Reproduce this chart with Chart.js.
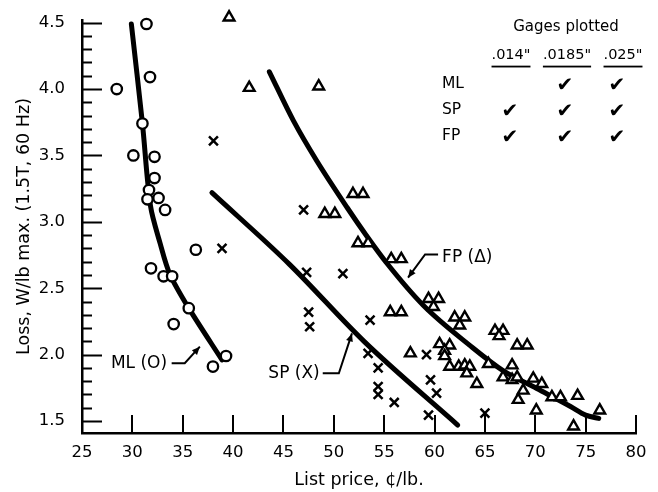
<!DOCTYPE html>
<html><head><meta charset="utf-8">
<script src="https://cdn.jsdelivr.net/npm/chart.js@4/dist/chart.umd.min.js"></script>
<style>html,body{margin:0;padding:0;background:#fff}#wrap{width:658px;height:492px}</style>
</head><body><div id="wrap"><canvas id="c" width="658" height="492"></canvas></div>
<script>
// ---- data ----
const mlPrice = [31.4, 31.75, 28.45, 31.0, 30.1, 32.2, 32.2, 31.65, 31.5, 32.6, 33.25, 36.3, 31.85, 33.1, 33.95, 35.6, 34.1, 39.3, 38.0];
const mlLoss  = [4.49, 4.09, 4.0, 3.74, 3.5, 3.49, 3.33, 3.24, 3.17, 3.18, 3.09, 2.79, 2.65, 2.59, 2.59, 2.35, 2.23, 1.99, 1.91];

const spPrice = [38.05, 38.9, 47.0, 47.3, 50.9, 47.5, 47.6, 53.6, 53.4, 54.4, 54.4, 54.4, 56.0, 59.2, 59.6, 60.2, 59.4, 65.0];
const spLoss  = [3.61, 2.80, 3.09, 2.62, 2.61, 2.32, 2.21, 2.26, 2.01, 1.90, 1.76, 1.70, 1.64, 2.0, 1.81, 1.71, 1.545, 1.56];

const fpPrice = [39.6, 41.6, 48.5, 49.1, 50.1, 51.9, 52.9, 52.4, 53.4, 55.7, 56.7, 55.6, 56.7, 57.6, 59.4, 60.4, 59.9, 62.0, 63.0, 62.5,
                 60.5, 61.5, 61.0, 61.0, 61.5, 62.4, 63.0, 63.5, 63.2, 64.2, 65.35, 66.0, 66.8, 66.4, 68.2, 69.2, 67.7, 66.8, 67.7, 68.2,
                 69.8, 70.65, 68.3, 68.8, 70.1, 71.65, 72.5, 74.2, 73.8, 76.4];
const fpLoss  = [4.54, 4.01, 4.02, 3.06, 3.06, 3.21, 3.21, 2.84, 2.84, 2.72, 2.72, 2.32, 2.32, 2.01, 2.42, 2.42, 2.36, 2.28, 2.28, 2.22,
                 2.08, 2.07, 2.03, 1.99, 1.91, 1.91, 1.92, 1.91, 1.86, 1.78, 1.93, 2.18, 2.18, 2.14, 2.07, 2.07, 1.92, 1.83, 1.81, 1.83,
                 1.82, 1.78, 1.66, 1.73, 1.58, 1.68, 1.68, 1.69, 1.46, 1.58];

// fitted curves
const mlCurvePrice = [29.9, 31.0, 31.8, 32.75, 33.7, 35.6, 38.9];
const mlCurveLoss  = [4.49, 3.74, 3.12, 2.84, 2.61, 2.35, 1.96];
const spCurvePrice = [37.9, 45.6, 53.0, 62.3];
const spCurveLoss  = [3.22, 2.68, 2.10, 1.47];
const fpCurvePrice = [43.6, 46.0, 48.3, 51.3, 53.3, 55.25, 58.9, 63.5, 66.8, 70.15, 73.5, 75.0, 76.3];
const fpCurveLoss  = [4.13, 3.76, 3.46, 3.11, 2.89, 2.69, 2.37, 2.07, 1.88, 1.745, 1.61, 1.545, 1.52];

// axis ticks
const xTicks = [25, 30, 35, 40, 45, 50, 55, 60, 65, 70, 75, 80];
const yTicks = [1.5, 2.0, 2.5, 3.0, 3.5, 4.0, 4.5];
const yMinorStep = 0.1;

// gages table
const gageTitle = 'Gages plotted';
const gageHeaders = ['.014"', '.0185"', '.025"'];
const gageRows = ['ML', 'SP', 'FP'];
const gageChecks = [[false, true, true], [true, true, true], [true, true, true]];

// curve labels
const curveLabels = ['ML (O)', 'SP (X)', 'FP (\u0394)'];

// ---- helpers ----
const pts = (xs, ys) => xs.map((v, i) => ({x: v, y: ys[i]}));
const FONT = 'DejaVu Sans';
Chart.defaults.font.family = FONT;
Chart.defaults.color = '#000';

const inwardTicks = {
  id: 'inwardTicks',
  afterDraw(chart) {
    const {ctx, chartArea: a, scales: {x, y}} = chart;
    ctx.save();
    ctx.strokeStyle = '#000';
    ctx.lineWidth = 2;
    ctx.beginPath();
    xTicks.slice(1).forEach(v => {
      const px = Math.round(x.getPixelForValue(v));
      ctx.moveTo(px, a.bottom); ctx.lineTo(px, a.bottom - 18);
    });
    const n = Math.round((yTicks[yTicks.length - 1] - yTicks[0]) / yMinorStep);
    for (let i = 0; i <= n; i++) {
      const v = yTicks[0] + i * yMinorStep;
      const py = Math.round(y.getPixelForValue(v)) + 0.5;
      const major = i % 5 === 0;
      ctx.moveTo(a.left, py); ctx.lineTo(a.left + (major ? 20 : 10), py);
    }
    ctx.stroke();
    ctx.restore();
  }
};

function arrowPath(ctx, pts, tipLen, tipW) {
  ctx.beginPath();
  ctx.moveTo(pts[0][0], pts[0][1]);
  for (let i = 1; i < pts.length; i++) ctx.lineTo(pts[i][0], pts[i][1]);
  ctx.stroke();
  const [x1, y1] = pts[pts.length - 2], [x2, y2] = pts[pts.length - 1];
  const ang = Math.atan2(y2 - y1, x2 - x1);
  ctx.beginPath();
  ctx.moveTo(x2, y2);
  ctx.lineTo(x2 - tipLen * Math.cos(ang) + tipW * Math.sin(ang), y2 - tipLen * Math.sin(ang) - tipW * Math.cos(ang));
  ctx.lineTo(x2 - tipLen * Math.cos(ang) - tipW * Math.sin(ang), y2 - tipLen * Math.sin(ang) + tipW * Math.cos(ang));
  ctx.closePath();
  ctx.fill();
}

const annotations = {
  id: 'annotations',
  afterDraw(chart) {
    const {ctx, chartArea: a, scales: {x, y}} = chart;
    const P = (vx, vy) => [x.getPixelForValue(vx), y.getPixelForValue(vy)];
    ctx.save();
    ctx.fillStyle = '#000';
    ctx.strokeStyle = '#000';
    ctx.lineWidth = 2;
    ctx.textBaseline = 'middle';
    ctx.font = '17px "' + FONT + '"';
    // ML
    let p = P(33.45, 1.936);
    ctx.textAlign = 'right';
    ctx.fillText(curveLabels[0], p[0], p[1]);
    arrowPath(ctx, [P(33.9, 1.936), P(35.2, 1.936), P(36.7, 2.06)], 8, 3.5);
    // SP
    p = P(48.6, 1.86);
    ctx.fillText(curveLabels[1], p[0], p[1]);
    arrowPath(ctx, [P(48.9, 1.86), P(50.5, 1.86), P(51.8, 2.16)], 8, 3.5);
    // FP
    p = P(60.75, 2.73);
    ctx.textAlign = 'left';
    ctx.fillText(curveLabels[2], p[0], p[1]);
    arrowPath(ctx, [P(60.35, 2.755), P(59.06, 2.755), P(57.37, 2.58)], 8, 3.5);

    // gages table (laid out from the chart area's right edge)
    const R = a.right, T = y.getPixelForValue(4.5);
    const colX = [R - 125, R - 69, R - 13];
    const checkX = [R - 126, R - 71, R - 19];
    ctx.textAlign = 'center';
    ctx.font = '15px "' + FONT + '"';
    ctx.fillText(gageTitle, R - 70, T + 4);
    ctx.font = '14.5px "' + FONT + '"';
    gageHeaders.forEach((h, i) => {
      ctx.fillText(h, colX[i], T + 33);
      const w = ctx.measureText(h).width;
      ctx.fillRect(colX[i] - w / 2, T + 43, w, 1.8);
    });
    gageRows.forEach((r, j) => {
      const yy = T + 61 + j * 26;
      ctx.font = '15.5px "' + FONT + '"';
      ctx.textAlign = 'left';
      ctx.fillText(r, R - 194, yy);
      ctx.font = '20px "' + FONT + '"';
      ctx.textAlign = 'center';
      gageChecks[j].forEach((c, i) => { if (c) ctx.fillText('\u2714', checkX[i], yy + 2); });
    });
    ctx.restore();
  }
};

new Chart(document.getElementById('c'), {
  type: 'scatter',
  data: {
    datasets: [
      {data: pts(mlCurvePrice, mlCurveLoss), showLine: true, pointRadius: 0, borderColor: '#000', borderWidth: 5,
       tension: 0.3, borderCapStyle: 'round', borderJoinStyle: 'round', order: 2},
      {data: pts(spCurvePrice, spCurveLoss), showLine: true, pointRadius: 0, borderColor: '#000', borderWidth: 5,
       cubicInterpolationMode: 'monotone', borderCapStyle: 'round', borderJoinStyle: 'round', order: 2},
      {data: pts(fpCurvePrice, fpCurveLoss), showLine: true, pointRadius: 0, borderColor: '#000', borderWidth: 5,
       cubicInterpolationMode: 'monotone', borderCapStyle: 'round', borderJoinStyle: 'round', order: 2},
      {data: pts(mlPrice, mlLoss), pointStyle: 'circle', pointRadius: 5.2, borderWidth: 2.3,
       borderColor: '#000', backgroundColor: '#fff', order: 1},
      {data: pts(spPrice, spLoss), pointStyle: 'crossRot', pointRadius: 6.3, borderWidth: 2.5,
       borderColor: '#000', backgroundColor: '#fff', order: 1},
      {data: pts(fpPrice, fpLoss), pointStyle: 'triangle', pointRadius: 6.2, borderWidth: 2.4,
       borderColor: '#000', backgroundColor: '#fff', order: 1}
    ]
  },
  options: {
    responsive: false,
    devicePixelRatio: 1,
    animation: false,
    clip: false,
    layout: {padding: {top: 20, right: 22, left: 0, bottom: 0}},
    plugins: {legend: {display: false}, tooltip: {enabled: false}},
    scales: {
      x: {
        type: 'linear', min: 25, max: 80,
        grid: {display: false, drawTicks: false},
        border: {display: true, color: '#000', width: 2.5},
        afterBuildTicks: s => { s.ticks = xTicks.map(v => ({value: v})); },
        afterFit: s => { s.height = 59; s.paddingLeft = 0; s.paddingRight = 0; },
        ticks: {font: {size: 16.5}, padding: 10, maxRotation: 0, autoSkip: false, color: '#000'},
        title: {display: true, text: 'List price, \u00a2/lb.', font: {size: 17.5}, color: '#000', padding: {top: 0, bottom: 1.5}}
      },
      y: {
        type: 'linear', min: 1.41, max: 4.52,
        grid: {display: false, drawTicks: false},
        border: {display: true, color: '#000', width: 2.5},
        afterBuildTicks: s => { s.ticks = yTicks.map(v => ({value: v})); },
        afterFit: s => { s.width = 82; s.paddingTop = 0; s.paddingBottom = 0; },
        ticks: {font: {size: 16.5}, padding: 17, autoSkip: false, color: '#000', callback: v => v.toFixed(1)},
        title: {display: true, text: 'Loss, W/lb max. (1.5T, 60 Hz)', font: {size: 17.5}, color: '#000', padding: {top: 13.5, bottom: 0}}
      }
    }
  },
  plugins: [inwardTicks, annotations]
});
</script>
</body></html>
